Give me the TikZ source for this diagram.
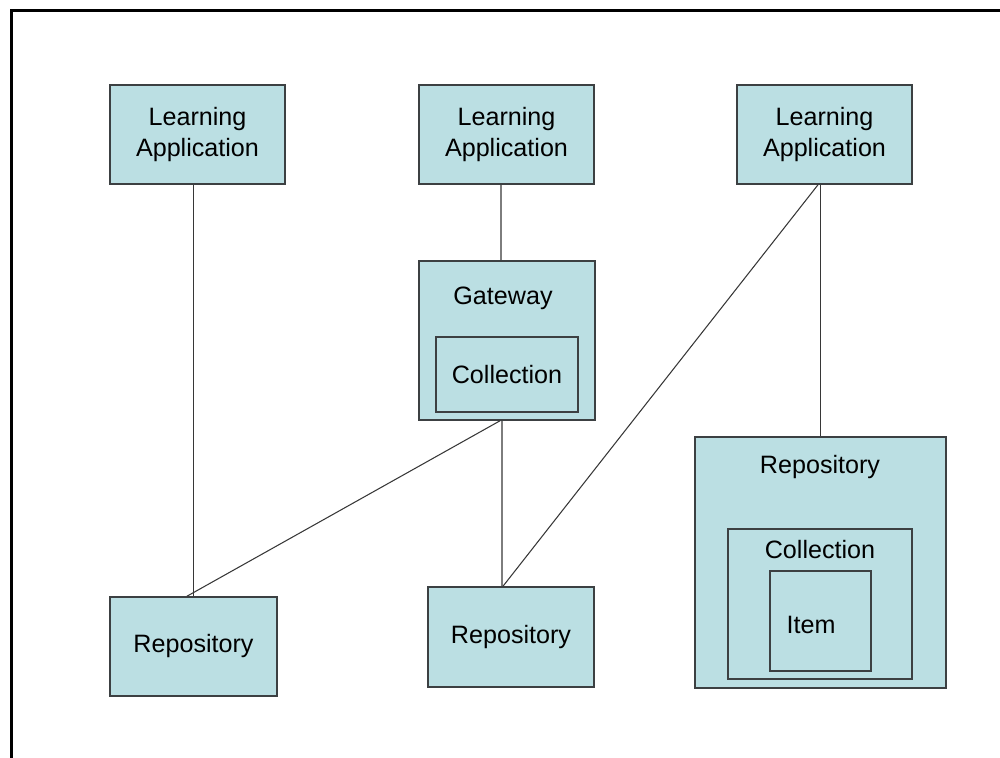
\documentclass[tikz,border=0pt]{standalone}
\usepackage{fontspec}
\setmainfont{Liberation Sans}
\usepackage{tikz}

\definecolor{boxfill}{RGB}{187,223,227}
\definecolor{boxline}{RGB}{60,64,66}
\definecolor{linkgray}{RGB}{55,55,55}

\tikzset{
  box/.style={draw=boxline, fill=boxfill, line width=0.9pt, inner sep=0pt},
  lbl/.style={font=\fontsize{14.3}{17.6}\selectfont, align=center, inner sep=0pt},
  link/.style={draw=linkgray, line width=0.6pt}
}

\begin{document}
\begin{tikzpicture}
      \useasboundingbox (0,0) rectangle (20,-15.16);
      \draw[line width=0.06cm] (0.22,-15.16) -- (0.22,-0.22) -- (20,-0.22);
      % learning applications
      \node[box, lbl, minimum width=3.5cm, minimum height=1.98cm] (la1) at (3.95,-2.69) {Learning\\Application};
      \node[box, lbl, minimum width=3.5cm, minimum height=1.98cm] (la2) at (10.13,-2.69) {Learning\\Application};
      \node[box, lbl, minimum width=3.5cm, minimum height=1.98cm] (la3) at (16.49,-2.69) {Learning\\Application};
      % gateway
      \node[box, minimum width=3.52cm, minimum height=3.18cm] (gw) at (10.14,-6.81) {};
      \node[lbl] (gwl) at (10.06,-5.96) {Gateway};
      \node[box, lbl, minimum width=2.84cm, minimum height=1.5cm] (gwc) at (10.14,-7.49) {Collection};
      % repositories
      \node[box, lbl, minimum width=3.34cm, minimum height=1.98cm] (rp1) at (3.87,-12.93) {Repository};
      \node[box, lbl, minimum width=3.32cm, minimum height=2.0cm] (rp2) at (10.22,-12.74) {Repository};
      \node[box, minimum width=5.02cm, minimum height=5.02cm] (rp3) at (16.41,-11.25) {};
      \node[lbl] (rp3l) at (16.4,-9.34) {Repository};
      \node[box, minimum width=3.68cm, minimum height=3.0cm] (rpc) at (16.4,-12.08) {};
      \node[lbl] (rpcl) at (16.4,-11.0) {Collection};
      \node[box, minimum width=2.02cm, minimum height=2.0cm] (itm) at (16.41,-12.42) {};
      \node[lbl] (itml) at (16.22,-12.5) {Item};
      % links
      \draw[link] (la1.south -| rp1.north) -- (rp1.north);
      \draw[link] ([xshift=-0.11cm]la2.south) -- ([xshift=-0.12cm]gw.north);
      \draw[link] ([xshift=-0.1cm]gw.south) -- ([xshift=-0.18cm]rp2.north);
      \draw[link] (la3.south -| rp3.north) -- (rp3.north);
      \draw[link] ([xshift=-0.14cm]gw.south) -- ([xshift=-0.13cm]rp1.north);
      \draw[link] ([xshift=-0.13cm]la3.south) -- ([xshift=-0.16cm]rp2.north);
\end{tikzpicture}
\end{document}
